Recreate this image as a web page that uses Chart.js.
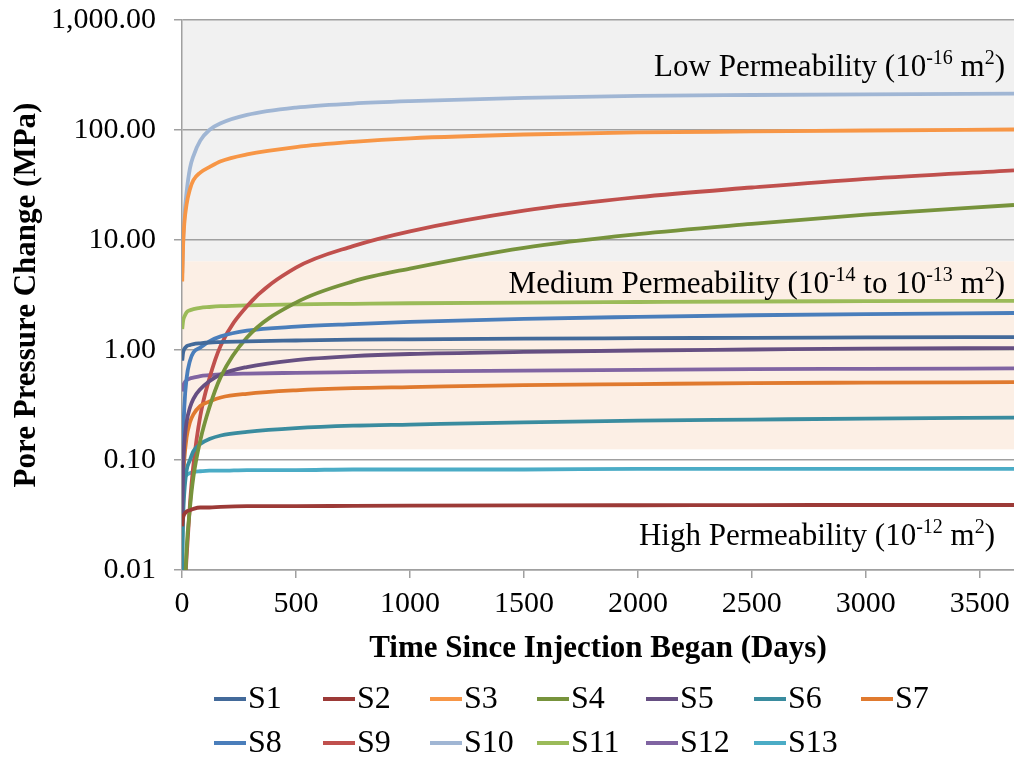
<!DOCTYPE html>
<html>
<head>
<meta charset="utf-8">
<script src="https://cdn.jsdelivr.net/npm/chart.js@4/dist/chart.umd.min.js"></script>
<style>
  html, body { margin: 0; padding: 0; background: #fff; }
  #wrap { width: 1014px; height: 761px; }
</style>
</head>
<body>
<div id="wrap"><canvas id="chart"></canvas></div>
<script>
// time axis (days since injection began)
const days = [1, 5, 10, 20, 35, 50, 80, 120, 170, 285, 500, 750, 1000, 1500, 2000, 2500, 3000, 3650];

// pore pressure change (MPa), one value per entry in days
const s1  = [0.80, 0.95, 1.02, 1.08, 1.11, 1.13, 1.15, 1.17, 1.18, 1.20, 1.22, 1.24, 1.25, 1.27, 1.28, 1.29, 1.30, 1.31];
const s2  = [0.025, 0.030, 0.032, 0.034, 0.035, 0.036, 0.037, 0.037, 0.0375, 0.038, 0.038, 0.0383, 0.0385, 0.0387, 0.0388, 0.0389, 0.039, 0.039];
const s3  = [4.2, 9, 14, 21, 29, 35, 41, 46, 52, 60, 70, 78, 84, 91, 95, 97, 99, 101];
const s4  = [0.0001, 0.001, 0.004, 0.015, 0.037, 0.07, 0.15, 0.3, 0.57, 1.3, 2.7, 4.2, 5.5, 8.5, 11.3, 14, 17, 20.8];
const s5  = [0.03, 0.08, 0.14, 0.22, 0.30, 0.36, 0.44, 0.52, 0.60, 0.70, 0.81, 0.88, 0.92, 0.96, 0.99, 1.01, 1.03, 1.04];
const s6  = [0.01, 0.03, 0.05, 0.08, 0.10, 0.12, 0.14, 0.155, 0.167, 0.18, 0.195, 0.205, 0.21, 0.22, 0.228, 0.233, 0.238, 0.243];
const s7  = [0.02, 0.06, 0.10, 0.16, 0.22, 0.26, 0.31, 0.34, 0.37, 0.40, 0.43, 0.45, 0.46, 0.48, 0.49, 0.50, 0.505, 0.51];
const s8  = [0.05, 0.15, 0.30, 0.55, 0.80, 0.95, 1.05, 1.20, 1.33, 1.50, 1.63, 1.72, 1.80, 1.92, 2.00, 2.07, 2.12, 2.17];
const s9  = [0.0001, 0.002, 0.005, 0.013, 0.04, 0.09, 0.25, 0.55, 1.1, 2.5, 5.6, 8.8, 12, 18.5, 24.5, 30, 36, 43];
const s10 = [5, 10, 16, 27, 45, 58, 80, 100, 115, 137, 160, 174, 183, 196, 204, 208, 211, 214];
const s11 = [1.55, 1.85, 2.0, 2.2, 2.3, 2.35, 2.42, 2.46, 2.5, 2.55, 2.6, 2.63, 2.66, 2.7, 2.73, 2.76, 2.78, 2.8];
const s12 = [0.42, 0.47, 0.50, 0.53, 0.55, 0.56, 0.58, 0.59, 0.60, 0.61, 0.62, 0.63, 0.64, 0.65, 0.66, 0.67, 0.675, 0.68];
const s13 = [0.035, 0.055, 0.067, 0.073, 0.076, 0.078, 0.079, 0.080, 0.080, 0.081, 0.081, 0.082, 0.082, 0.082, 0.083, 0.083, 0.083, 0.083];

const seriesNames = ["S1", "S2", "S3", "S4", "S5", "S6", "S7", "S8", "S9", "S10", "S11", "S12", "S13"];
const seriesValues = [s1, s2, s3, s4, s5, s6, s7, s8, s9, s10, s11, s12, s13];
const seriesColors = ["#436A9A", "#9C3A37", "#F79646", "#77933C", "#664F82", "#3A8C9F", "#E07A2F",
                      "#4A7EBB", "#C0504D", "#A0B6D4", "#9BBB59", "#8064A2", "#4BACC6"];

const xTicks = [0, 500, 1000, 1500, 2000, 2500, 3000, 3500];
const yTicks = [0.01, 0.1, 1, 10, 100, 1000];
// permeability band limits (MPa)
const lowBandFloor = 6.4;
const mediumBandFloor = 0.125;

const FONT = "'Liberation Serif', 'Times New Roman', serif";

// shaded permeability bands behind the grid
const bandsPlugin = {
  id: "bands",
  beforeDraw(chart) {
    const { ctx, chartArea: a, scales: { y } } = chart;
    const yLow = y.getPixelForValue(lowBandFloor);
    const yMed = y.getPixelForValue(mediumBandFloor);
    ctx.save();
    ctx.fillStyle = "#F1F1F1";
    ctx.fillRect(a.left, a.top, a.right - a.left, yLow - a.top);
    ctx.fillStyle = "#FCEFE5";
    ctx.fillRect(a.left, yLow, a.right - a.left, yMed - yLow);
    ctx.restore();
  },
};

// band labels with superscripts, drawn right aligned
function drawRich(ctx, parts, rightX, baseY) {
  const big = "31px " + FONT;
  const small = "20px " + FONT;
  let total = 0;
  parts.forEach(p => { ctx.font = p.sup ? small : big; total += ctx.measureText(p.t).width; });
  let x = rightX - total;
  parts.forEach(p => {
    ctx.font = p.sup ? small : big;
    ctx.fillText(p.t, x, p.sup ? baseY - 12 : baseY);
    x += ctx.measureText(p.t).width;
  });
}

const labelsPlugin = {
  id: "bandLabels",
  afterDatasetsDraw(chart) {
    const { ctx } = chart;
    ctx.save();
    ctx.fillStyle = "#000";
    ctx.textBaseline = "alphabetic";
    ctx.textAlign = "left";
    drawRich(ctx, [{ t: "Low Permeability (10" }, { t: "-16", sup: true }, { t: " m" }, { t: "2", sup: true }, { t: ")" }], 1005, 76);
    drawRich(ctx, [{ t: "Medium Permeability (10" }, { t: "-14", sup: true }, { t: " to 10" }, { t: "-13", sup: true },
                   { t: " m" }, { t: "2", sup: true }, { t: ")" }], 1005, 293);
    drawRich(ctx, [{ t: "High Permeability (10" }, { t: "-12", sup: true }, { t: " m" }, { t: "2", sup: true }, { t: ")" }], 995, 545);
    ctx.restore();
  },
};

// legend laid out in a 7-column grid like the original
const legendCols = [214, 323, 430, 537, 646, 754, 861];
const legendRows = [699, 743];
const legendPlugin = {
  id: "gridLegend",
  afterDraw(chart) {
    const { ctx } = chart;
    ctx.save();
    ctx.font = "32px " + FONT;
    ctx.textBaseline = "middle";
    chart.data.datasets.forEach((ds, i) => {
      const x = legendCols[i % 7];
      const y = legendRows[Math.floor(i / 7)];
      ctx.strokeStyle = ds.borderColor;
      ctx.lineWidth = 4;
      ctx.beginPath();
      ctx.moveTo(x, y);
      ctx.lineTo(x + 32, y);
      ctx.stroke();
      ctx.fillStyle = "#000";
      ctx.fillText(ds.label, x + 34, y + 1);
    });
    ctx.restore();
  },
};

const datasets = seriesNames.map((name, i) => ({
  label: name,
  data: days.map((d, j) => ({ x: d, y: seriesValues[i][j] })),
  borderColor: seriesColors[i],
  backgroundColor: seriesColors[i],
  borderWidth: 3.8,
  pointRadius: 0,
  cubicInterpolationMode: "monotone",
  fill: false,
}));

new Chart(document.getElementById("chart"), {
  type: "line",
  data: { datasets },
  plugins: [bandsPlugin, labelsPlugin, legendPlugin],
  options: {
    responsive: true,
    maintainAspectRatio: false,
    animation: false,
    layout: { padding: { top: 20, right: 0, bottom: 81, left: 0 } },
    plugins: { legend: { display: false }, tooltip: { enabled: false } },
    scales: {
      x: {
        type: "linear",
        min: 0,
        max: 3650,
        afterBuildTicks: s => { s.ticks = xTicks.map(v => ({ value: v })); },
        afterFit: s => { s.height = 110; s.paddingLeft = 0; s.paddingRight = 0; },
        grid: { drawOnChartArea: false, color: "#A0A0A0", lineWidth: 1.5, tickLength: 8 },
        border: { color: "#A0A0A0", width: 1.5 },
        ticks: { maxRotation: 0, autoSkip: false, padding: 8, color: "#000",
                 font: { family: FONT, size: 30 }, callback: v => String(v) },
        title: { display: true, text: "Time Since Injection Began (Days)", color: "#000",
                 font: { family: FONT, size: 31, weight: "bold" }, padding: { top: 0, bottom: 12 } },
      },
      y: {
        type: "logarithmic",
        min: 0.01,
        max: 1000,
        afterBuildTicks: s => { s.ticks = yTicks.map(v => ({ value: v })); },
        afterFit: s => { s.width = 182; s.paddingTop = 0; s.paddingBottom = 0; },
        grid: { color: "#A0A0A0", lineWidth: 1.5, tickLength: 8 },
        border: { color: "#A0A0A0", width: 1.5 },
        ticks: {
          padding: 18,
          color: "#000",
          font: { family: FONT, size: 30 },
          callback: v => Number(v).toLocaleString("en-US", { minimumFractionDigits: 2, maximumFractionDigits: 2 }),
        },
        title: { display: true, text: "Pore Pressure Change (MPa)", color: "#000",
                 font: { family: FONT, size: 31, weight: "bold" }, padding: { top: 8, bottom: 0 } },
      },
    },
  },
});
</script>
</body>
</html>
